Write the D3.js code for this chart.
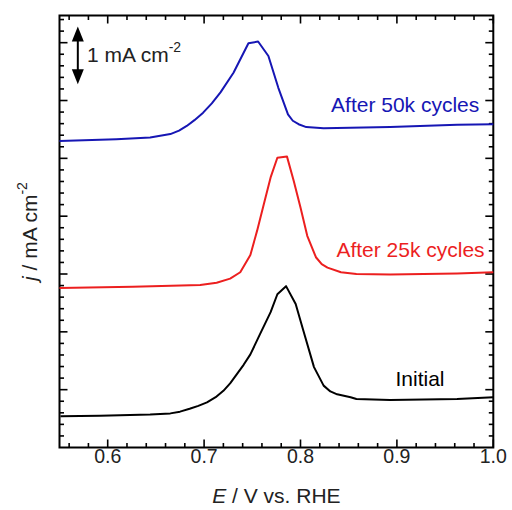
<!DOCTYPE html>
<html>
<head>
<meta charset="utf-8">
<script src="https://cdn.jsdelivr.net/npm/d3@7"></script>
<style>
  body { margin: 0; background: #fff; }
  svg { display: block; }
  text { font-family: "Liberation Sans", Arial, Helvetica, sans-serif; }
</style>
</head>
<body>
<script>
// Potential (V vs. RHE) and current density (mA cm^-2, offset) for each voltammogram
const initialE = [0.551, 0.592, 0.644, 0.665, 0.675, 0.685, 0.694, 0.703, 0.712, 0.720, 0.727, 0.734, 0.741, 0.748, 0.758, 0.769, 0.776, 0.785, 0.795, 0.803, 0.814, 0.824, 0.831, 0.838, 0.852, 0.858, 0.893, 0.9625, 1.0];
const initialJ = [0.54, 0.55, 0.57, 0.59, 0.62, 0.67, 0.72, 0.78, 0.87, 0.98, 1.11, 1.27, 1.43, 1.61, 1.96, 2.34, 2.65, 2.79, 2.48, 2.02, 1.39, 1.07, 0.97, 0.92, 0.87, 0.84, 0.82, 0.84, 0.87];

const after25kE = [0.55, 0.626, 0.696, 0.713, 0.727, 0.7375, 0.748, 0.755, 0.762, 0.769, 0.776, 0.786, 0.793, 0.800, 0.807, 0.816, 0.822, 0.828, 0.842, 0.858, 0.893, 0.9625, 1.0];
const after25kJ = [2.76, 2.78, 2.81, 2.85, 2.92, 3.03, 3.33, 3.75, 4.21, 4.67, 5.01, 5.03, 4.61, 4.15, 3.66, 3.29, 3.17, 3.11, 3.03, 3.00, 2.99, 3.01, 3.03];

const after50kE = [0.55, 0.609, 0.644, 0.665, 0.674, 0.682, 0.690, 0.699, 0.708, 0.717, 0.7305, 0.746, 0.756, 0.7667, 0.777, 0.787, 0.792, 0.798, 0.806, 0.824, 0.893, 0.9625, 1.0];
const after50kJ = [5.30, 5.33, 5.36, 5.42, 5.48, 5.56, 5.66, 5.79, 5.95, 6.14, 6.48, 6.99, 7.02, 6.77, 6.22, 5.76, 5.65, 5.59, 5.54, 5.52, 5.54, 5.58, 5.59];

const seriesNames = ["Initial", "After 25k cycles", "After 50k cycles"];
const seriesColors = ["#000000", "#ec1f1f", "#1616b4"];

const xMajorTicks = [0.6, 0.7, 0.8, 0.9, 1.0];
const xTickLabels = ["0.6", "0.7", "0.8", "0.9", "1.0"];

const width = 512, height = 510;
const margin = { left: 59.5, right: 18.7, top: 15.5, bottom: 62.5 };

const svg = d3.select("body").append("svg")
  .attr("width", width).attr("height", height);

const x = d3.scaleLinear().domain([0.55, 1.0]).range([margin.left, width - margin.right]);
const y = d3.scaleLinear().domain([0, 7.47]).range([height - margin.bottom, margin.top]);

const x0 = x.range()[0], x1 = x.range()[1];
const y0 = y.range()[0], y1 = y.range()[1];

// Tick positions: minor every 0.02 V / 0.2 mA cm^-2, major every 0.1 V / 1 mA cm^-2
const xMinor = d3.range(56, 100, 2).map(v => v / 100).filter(v => !xMajorTicks.some(m => Math.abs(m - v) < 1e-9));
const yMajor = d3.range(1, 8);
const yMinor = d3.range(1, 38).map(v => v / 5).filter(v => Math.abs(v - Math.round(v)) > 1e-9);

const majorLen = 8, minorLen = 4.5;
const ticks = svg.append("g").attr("stroke", "#000").attr("stroke-width", 1.6);

function xTicks(vals, len) {
  vals.forEach(v => {
    ticks.append("line").attr("x1", x(v)).attr("x2", x(v)).attr("y1", y0).attr("y2", y0 - len);
    ticks.append("line").attr("x1", x(v)).attr("x2", x(v)).attr("y1", y1).attr("y2", y1 + len);
  });
}
function yTicks(vals, len) {
  vals.forEach(v => {
    ticks.append("line").attr("x1", x0).attr("x2", x0 + len).attr("y1", y(v)).attr("y2", y(v));
    ticks.append("line").attr("x1", x1).attr("x2", x1 - len).attr("y1", y(v)).attr("y2", y(v));
  });
}
xTicks(xMajorTicks, majorLen);
xTicks(xMinor, minorLen);
yTicks(yMajor, majorLen);
yTicks(yMinor, minorLen);

// Frame
svg.append("rect")
  .attr("x", x0).attr("y", y1)
  .attr("width", x1 - x0).attr("height", y0 - y1)
  .attr("fill", "none").attr("stroke", "#000").attr("stroke-width", 2);

// X tick labels
svg.append("g").selectAll("text")
  .data(xMajorTicks)
  .join("text")
  .attr("x", d => x(d))
  .attr("y", 463)
  .attr("text-anchor", "middle")
  .attr("font-size", 19.5)
  .attr("fill", "#222")
  .text((d, i) => xTickLabels[i]);

// Axis titles
const xTitle = svg.append("text")
  .attr("x", (x0 + x1) / 2).attr("y", 503)
  .attr("text-anchor", "middle")
  .attr("font-size", 21).attr("fill", "#222");
xTitle.append("tspan").attr("font-style", "italic").text("E");
xTitle.append("tspan").text(" / V vs. RHE");

const yTitle = svg.append("text")
  .attr("transform", `translate(37,${(y0 + y1) / 2}) rotate(-90)`)
  .attr("text-anchor", "middle")
  .attr("font-size", 21).attr("fill", "#222");
yTitle.append("tspan").attr("font-style", "italic").text("j");
yTitle.append("tspan").text(" / mA cm");
yTitle.append("tspan").attr("font-size", 14).attr("dy", -10).text("-2");

// Curves
const line = d3.line().x(d => x(d[0])).y(d => y(d[1]));
const series = [
  d3.zip(initialE, initialJ),
  d3.zip(after25kE, after25kJ),
  d3.zip(after50kE, after50kJ)
];
svg.append("g").selectAll("path")
  .data(series)
  .join("path")
  .attr("d", line)
  .attr("fill", "none")
  .attr("stroke", (d, i) => seriesColors[i])
  .attr("stroke-width", 2)
  .attr("stroke-linejoin", "round");

// Curve labels
const labelPos = [
  { e: 0.924, j: 1.07, anchor: "middle" },
  { e: 0.991, j: 3.30, anchor: "end" },
  { e: 0.9855, j: 5.81, anchor: "end" }
];
svg.append("g").selectAll("text")
  .data(seriesNames)
  .join("text")
  .attr("x", (d, i) => x(labelPos[i].e))
  .attr("y", (d, i) => y(labelPos[i].j))
  .attr("text-anchor", (d, i) => labelPos[i].anchor)
  .attr("font-size", 21)
  .attr("fill", (d, i) => seriesColors[i])
  .text(d => d);

// Scale bar: double-headed arrow spanning 1 mA cm^-2
const barBottom = 6.28, barTop = 7.28, barE = 0.569;
const bx = x(barE), byTop = y(barTop), byBot = y(barBottom);
const head = 15, halfW = 6;
svg.append("line")
  .attr("x1", bx).attr("x2", bx)
  .attr("y1", byTop + head - 1).attr("y2", byBot - head + 1)
  .attr("stroke", "#000").attr("stroke-width", 2);
svg.append("path")
  .attr("d", `M${bx},${byTop} L${bx - halfW},${byTop + head} L${bx + halfW},${byTop + head} Z`)
  .attr("fill", "#000");
svg.append("path")
  .attr("d", `M${bx},${byBot} L${bx - halfW},${byBot - head} L${bx + halfW},${byBot - head} Z`)
  .attr("fill", "#000");

const barLabel = svg.append("text")
  .attr("x", 87).attr("y", 62)
  .attr("font-size", 21).attr("fill", "#222");
barLabel.append("tspan").text("1 mA cm");
barLabel.append("tspan").attr("font-size", 14).attr("dy", -10).text("-2");
</script>
</body>
</html>
